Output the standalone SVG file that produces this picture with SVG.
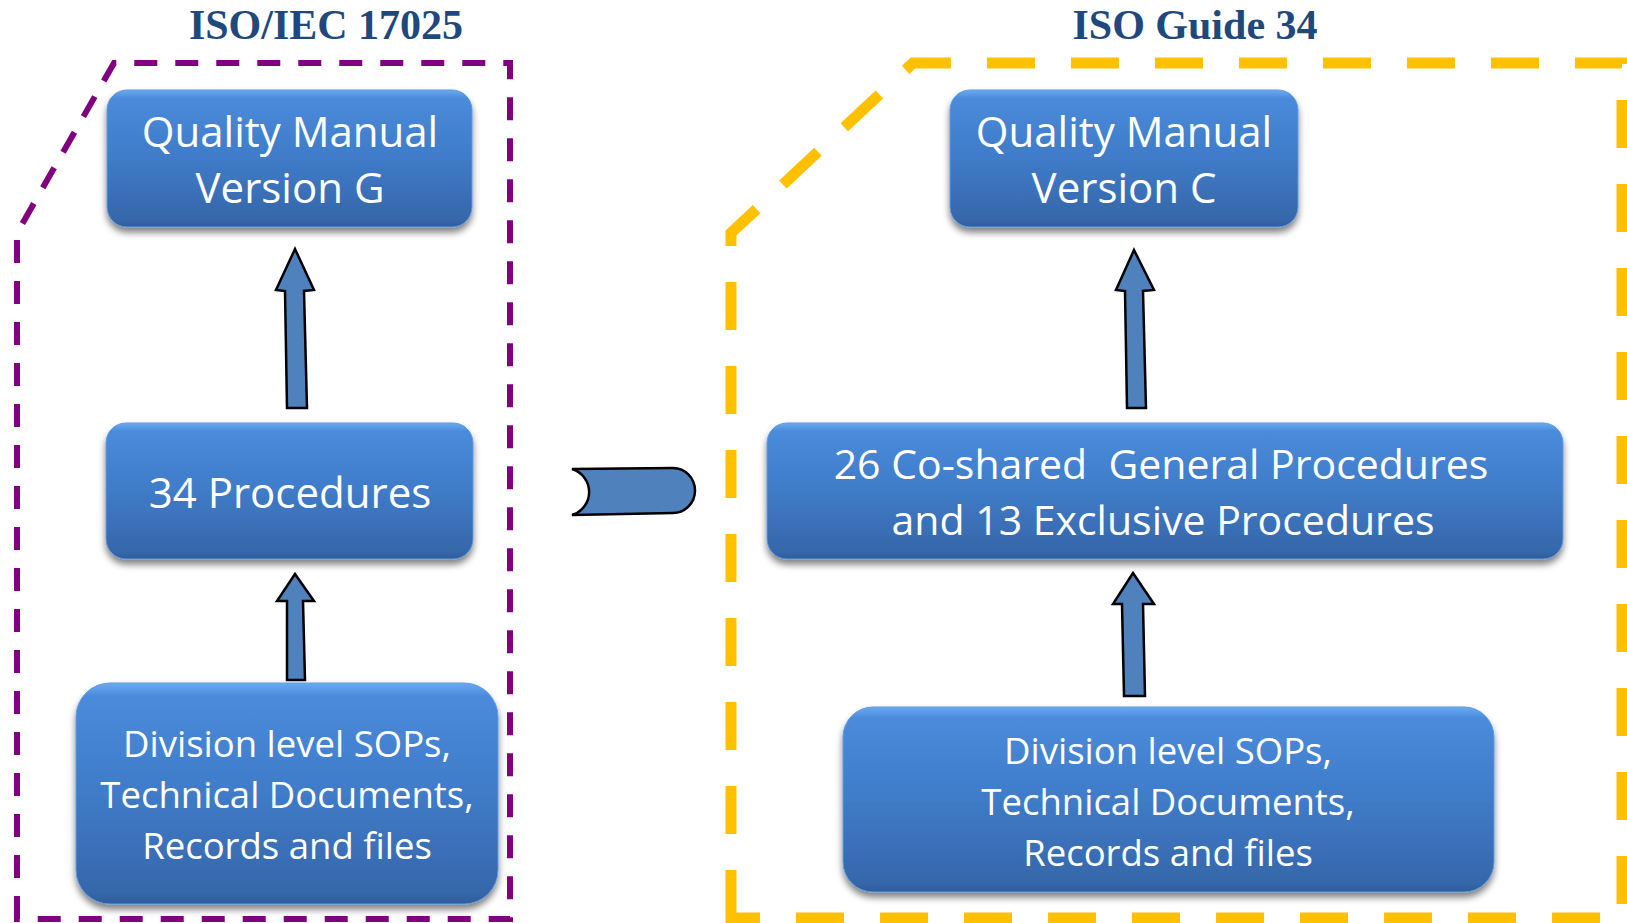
<svg xmlns="http://www.w3.org/2000/svg" width="1627" height="923" viewBox="0 0 1627 923">
<style>
.title{font-family:"Liberation Serif","Times New Roman",serif;font-weight:bold;font-size:42px;fill:#1F497D;text-anchor:middle}
.lbl{font-family:"Open Sans","Noto Sans",sans-serif;fill:#FFFFFF;text-anchor:middle}
.big{font-size:42px}
.mid{font-size:41px}
.small{font-size:36.5px}
.box{fill:url(#boxGrad);stroke:#5E9BE3;stroke-width:1;filter:url(#shadow)}
.arrow{fill:#4F81BD;stroke:#000000;stroke-width:2.5;stroke-linejoin:miter}
.frameP{fill:none;stroke:#800080;stroke-width:6;stroke-dasharray:23 18}
.frameG{fill:none;stroke:#FFC000;stroke-width:11;stroke-dasharray:48 36}
</style>
<defs>
<linearGradient id="boxGrad" x1="0" y1="0" x2="0" y2="1">
<stop offset="0" stop-color="#6AAAF0"/>
<stop offset="0.06" stop-color="#4A8BDB"/>
<stop offset="0.5" stop-color="#3F7BC8"/>
<stop offset="0.95" stop-color="#3667AA"/>
<stop offset="1" stop-color="#2F5C99"/>
</linearGradient>
<filter id="shadow" x="-10%" y="-10%" width="120%" height="130%">
<feGaussianBlur in="SourceAlpha" stdDeviation="3.5"/>
<feOffset dx="0" dy="5" result="b"/>
<feComponentTransfer><feFuncA type="linear" slope="0.5"/></feComponentTransfer>
<feMerge><feMergeNode/><feMergeNode in="SourceGraphic"/></feMerge>
</filter>
</defs>
<rect width="1627" height="923" fill="#FFFFFF"/>
<g id="frames">
<path class="frameP" d="M17 919 L17 233 L114 63 L510 63 L510 919 Z"/>
<path class="frameG" d="M731 918 L731 233 L913 63 L1622 63 L1622 918 Z"/>
</g>
<g id="titles">
<text class="title" x="326" y="39">ISO/IEC 17025</text>
<text class="title" x="1195" y="39">ISO Guide 34</text>
</g>
<g id="node-qm-g">
<rect class="box" x="107" y="90" width="365" height="137" rx="20"/>
<text class="lbl big" x="290" y="147">Quality Manual</text>
<text class="lbl big" x="290" y="203">Version G</text>
</g>
<g id="node-proc-34">
<rect class="box" x="106" y="423" width="367" height="136" rx="20"/>
<text class="lbl big" x="290" y="508">34 Procedures</text>
</g>
<g id="node-sop-left">
<rect class="box" x="76" y="683" width="422" height="221" rx="34"/>
<text class="lbl small" x="287" y="757">Division level SOPs,</text>
<text class="lbl small" x="287" y="808">Technical Documents,</text>
<text class="lbl small" x="287" y="859">Records and files</text>
</g>
<g id="node-qm-c">
<rect class="box" x="950" y="90" width="348" height="137" rx="20"/>
<text class="lbl big" x="1124" y="147">Quality Manual</text>
<text class="lbl big" x="1124" y="203">Version C</text>
</g>
<g id="node-proc-26">
<rect class="box" x="767" y="423" width="796" height="136" rx="20"/>
<text class="lbl mid" x="1161" y="479" xml:space="preserve">26 Co-shared  General Procedures</text>
<text class="lbl mid" x="1163" y="535">and 13 Exclusive Procedures</text>
</g>
<g id="node-sop-right">
<rect class="box" x="843" y="707" width="651" height="185" rx="30"/>
<text class="lbl small" x="1168" y="764">Division level SOPs,</text>
<text class="lbl small" x="1168" y="815">Technical Documents,</text>
<text class="lbl small" x="1168" y="866">Records and files</text>
</g>
<g id="connectors">
<path class="arrow" d="M295 249 L314 290 L304 291 L307 408 L287 408 L285 291 L276 290 Z"/>
<path class="arrow" d="M295 574 L314 601 L303 601 L305 680 L287 680 L287 601 L277 601 Z"/>
<path class="arrow" d="M1134 250 L1154 290 L1143 291 L1146 408 L1127 408 L1125 291 L1116 290 Z"/>
<path class="arrow" d="M1133 573 L1154 604 L1143 604 L1145 696 L1124 696 L1122 604 L1113 604 Z"/>
<path class="arrow" d="M572 469 L673 468 A22 22.5 0 0 1 673 513 L572 515 A24 24 0 0 0 572 469 Z"/>
</g>
</svg>
